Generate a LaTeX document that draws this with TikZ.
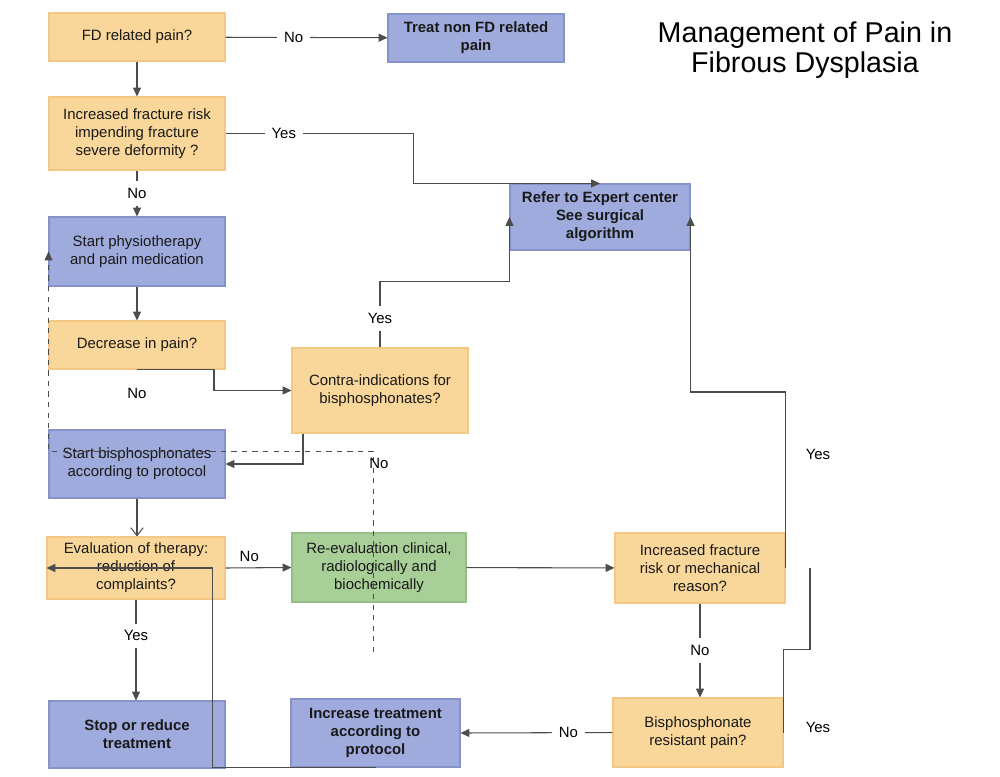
\documentclass[tikz,border=0pt]{standalone}
\usepackage{fontspec}
\setmainfont{Liberation Sans}
\usetikzlibrary{arrows.meta}
\usepackage{xcolor}
\definecolor{qfill}{HTML}{F9D699}
\definecolor{qdraw}{HTML}{F1C985}
\definecolor{afill}{HTML}{9EABDC}
\definecolor{adraw}{HTML}{8593CA}
\definecolor{rfill}{HTML}{A9CF99}
\definecolor{rdraw}{HTML}{95BE86}
\def\boxw{3.52cm}

\begin{document}
\begin{tikzpicture}[x=0.02cm,y=-0.02cm,>={Triangle[length=5pt,width=4.5pt]},line width=0.6pt]
    \tikzstyle{box}=[rectangle,minimum width=\boxw,inner sep=0pt,align=center,text=black!90,font=\fontsize{8.5}{10.2}\selectfont]
    \tikzstyle{question}=[box, fill=qfill, draw=qdraw]
    \tikzstyle{action}=[box, fill=afill, draw=adraw, font=\fontsize{8.5}{10.2}\selectfont\bfseries]
    \tikzstyle{plain action}=[box, fill=afill, draw=adraw]
    \tikzstyle{review}=[box, fill=rfill, draw=rdraw]
    \tikzstyle{lbl}=[fill=white,inner sep=4pt,font=\fontsize{8.5}{10.2}\selectfont]
    \tikzstyle{flow}=[->,draw=black!70]

    \useasboundingbox (0,0) rectangle (1000,777);

    % Title
    \node[align=center,font=\fontsize{16.3}{17.2}\selectfont] (title) at (805,50) {Management of Pain in\\Fibrous Dysplasia};

    % Draw the left column
    \node[question,minimum height=0.96cm] (fd) at (137,37) {FD related pain?};
    \node[question,minimum height=1.46cm] (risk) at (137,133.5) {Increased fracture risk\\impending fracture\\severe deformity ?};
    \node[plain action,minimum height=1.38cm] (physio) at (137,251.5) {Start physiotherapy\\and pain medication};
    \node[question,minimum height=0.96cm] (decr) at (137,345) {Decrease in pain?};
    \node[plain action,minimum height=1.36cm] (bisph) at (137,464) {Start bisphosphonates\\according to protocol};
    \node[question,minimum width=3.56cm,minimum height=1.24cm] (evalu) at (136,568) {Evaluation of therapy:\\reduction of\\complaints?};
    \node[action,minimum height=1.34cm] (stop) at (137,734.5) {Stop or reduce\\treatment};

    % Draw the middle column
    \node[action,minimum height=0.96cm] (treat) at (476,38) {Treat non FD related\\pain};
    \node[question,minimum height=1.7cm] (contra) at (380,390.5) {Contra-indications for\\bisphosphonates?};
    \node[review,minimum width=3.48cm,minimum height=1.38cm] (reeval) at (379,567.5) {Re-evaluation clinical,\\radiologically and\\biochemically};
    \node[action,minimum width=3.38cm,minimum height=1.36cm] (incr) at (375.5,733) {Increase treatment\\according to\\protocol};

    % Draw the right column
    \node[action,minimum width=3.6cm,minimum height=1.32cm] (refer) at (600,217) {Refer to Expert center\\See surgical\\algorithm};
    \node[question,minimum width=3.4cm,minimum height=1.4cm] (risk2) at (700,568) {Increased fracture\\risk or mechanical\\reason?};
    \node[question,minimum width=3.4cm,minimum height=1.38cm] (resist) at (698,732.5) {Bisphosphonate\\resistant pain?};

    % Connect the boxes
    \draw[flow] (fd) -- node[lbl,pos=.42]{No} (treat);
    \draw[flow] (fd) -- (risk);
    \draw[flow] (risk) -- node[lbl]{No} (physio);
    \draw[flow] (risk.east) -- node[lbl,pos=.31]{Yes} ++(188,0) |- (refer.north);
    \draw[flow] (physio) -- (decr);
    \draw[flow] (decr.south) -- ++(77,0) |- (contra.west);
    \node[lbl] (decrno) at (137,393) {No};
    \draw[flow] (contra.north) -- node[lbl,pos=.44]{Yes} ++(0,-66) -| (refer.west);
    \draw[flow] ([xshift=-1.54cm]contra.south) |- (bisph.east);
    \draw[draw=black!70,-{Straight Barb[length=4.5pt,width=7pt]}] (bisph.south) -- (bisph.south |- evalu.north);
    \draw[flow] (evalu.east) -- node[pos=.36,above,font=\fontsize{8.5}{10.2}\selectfont]{No} (reeval.west);
    \draw[flow] (evalu.south) -- node[lbl,pos=.36]{Yes} (evalu.south |- stop.north);
    \draw[flow] (reeval) -- (risk2);
    \draw[flow] (risk2.east) -- ++(0,-176) -| (refer.east);
    \node[lbl] (risk2yes) at (818,454) {Yes};
    \draw[flow] (risk2.south) -- node[lbl]{No} (risk2.south |- resist.north);
    \coordinate (resistend) at (810,568);
    \draw[draw=black!70] (resist.east) -- ++(0,-83) -| (resistend);
    \node[lbl] (resistyes) at (818,727) {Yes};
    \draw[flow] (resist.west) -- node[lbl,pos=.29]{No} (incr.east);
    \draw[flow] (incr.south) -- ++(-163,0) |- (evalu.west);

    % Dashed feedback to physiotherapy
    \coordinate (dashstart) at (373,652);
    \draw[flow,dashed,line width=0.5pt] (dashstart) -- node[pos=.94,font=\fontsize{8.5}{10.2}\selectfont,xshift=0.12cm]{No} ++(0,-201) -| (physio.west);
\end{tikzpicture}
\end{document}
